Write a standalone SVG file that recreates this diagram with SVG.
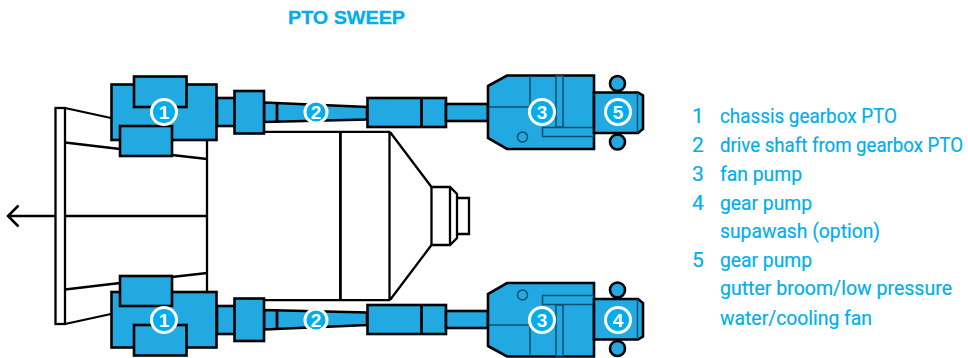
<svg xmlns="http://www.w3.org/2000/svg" width="968" height="358" viewBox="0 0 968 358">
<style>
.s{fill:none;stroke:#000;stroke-width:2.300}
.w{fill:#fff;stroke:#000;stroke-width:2.300}
.b{fill:#23a9e1;stroke:#000;stroke-width:2.600}
.t{fill:none;stroke:#0b4f6e;stroke-width:1.500}
.d{fill:#23a9e1;stroke:#0b4f6e;stroke-width:1.500}
.c{fill:#00aeef;stroke:#fff;stroke-width:3}
.n{fill:#fff;font:bold 19px "Liberation Sans",Arial,sans-serif;text-anchor:middle}
.l{fill:#00aeef;font:21px Roboto,"Liberation Sans",sans-serif;stroke:#00aeef;stroke-width:.2}
</style>
<defs>
<g id="gearboxShape">
<rect class="b" x="111.500" y="84.500" width="105" height="55.500"/>
<rect class="b" x="134" y="76.500" width="52.500" height="30.500"/>
<rect class="b" x="120" y="126" width="52" height="30"/>
</g>
<g id="shaftShape">
<rect class="b" x="217" y="98" width="18" height="28"/>
<polygon class="b" points="264,102.500 367,107 367,119.500 264,122"/>
<rect class="b" x="234.500" y="91" width="29.500" height="42.500"/>
<line x1="277" y1="102" x2="277" y2="122.500" stroke="#000" stroke-width="2.800"/>
<rect class="b" x="367.500" y="98" width="78.500" height="29"/>
<line x1="421.500" y1="98" x2="421.500" y2="127" stroke="#000" stroke-width="2.800"/>
<rect class="b" x="446" y="104" width="42" height="17"/>
</g>
<g id="pumpShape">
<polygon class="b" points="488,86 507,75.500 594,75.500 594,149 507,149 488,138"/>
<path class="t" d="M489,107H530M530,76V107"/>
<rect class="d" x="556" y="76" width="7" height="51"/>
<rect class="d" x="542.500" y="127.500" width="51" height="9"/>
<circle class="t" cx="522.500" cy="137" r="5"/>
<circle class="b" cx="617.500" cy="83.500" r="7.500"/>
<circle class="b" cx="617.500" cy="142" r="7.500"/>
<path class="b" d="M594,92.500H638L643,95.500V129L638,133H594Z"/>
<line x1="637.500" y1="93" x2="637.500" y2="133" stroke="#0b4f6e" stroke-width="1.500"/>
</g>
</defs>

<text id="title" x="288" y="24" fill="#00aeef" font-family="Liberation Sans, sans-serif" font-weight="700" font-size="19" textLength="117" lengthAdjust="spacingAndGlyphs" stroke="#00aeef" stroke-width=".3">PTO SWEEP</text>

<g id="chassis">
<rect class="w" x="55.500" y="108" width="9.500" height="216"/>
<path class="s" d="M65,108L111,118M65,142.500L120,149M172,155L207,159M207,140V292M65,216H207M65,324L111,314M65,289.500L120,283M172,277L207,273"/>
</g>
<g id="body">
<path class="s" d="M264,131.800H390M264,300.200H390"/>
<rect x="339" y="132" width="2.800" height="168" fill="#000"/>
<path class="s" d="M389.500,132V300M390,132L431.500,187H450L457,194V238L450,245H431.500L390,300"/>
<path class="s" d="M431.500,187V245M450,187V245M457,198H469V234H457"/>
</g>

<g id="connectors">
<path fill="none" stroke="#000" stroke-width="2.500" d="M55,216H8M18.500,205.500L8,216L18.500,226.500"/>
</g>

<g id="gearbox-top"><use href="#gearboxShape"/><circle class="c" cx="164" cy="112" r="12.500"/><text class="n" x="164" y="118.500">1</text></g>
<g id="gearbox-bottom"><use href="#gearboxShape" transform="matrix(1 0 0 -1 0 432)"/><circle class="c" cx="164" cy="320" r="12.500"/><text class="n" x="164" y="326.500">1</text></g>
<g id="shaft-top"><use href="#shaftShape"/><circle class="c" cx="316" cy="112" r="11"/><text class="n" x="316" y="118.500">2</text></g>
<g id="shaft-bottom"><use href="#shaftShape" transform="matrix(1 0 0 -1 0 432)"/><circle class="c" cx="316" cy="320" r="11"/><text class="n" x="316" y="326.500">2</text></g>
<g id="pump-top"><use href="#pumpShape"/><circle class="c" cx="542" cy="112" r="12.500"/><text class="n" x="542" y="118.500">3</text><circle class="c" cx="618" cy="112" r="12.500"/><text class="n" x="618" y="118.500">5</text></g>
<g id="pump-bottom"><use href="#pumpShape" transform="matrix(1 0 0 -1 0 432)"/><circle class="c" cx="542" cy="320" r="12.500"/><text class="n" x="542" y="326.500">3</text><circle class="c" cx="618" cy="320" r="12.500"/><text class="n" x="618" y="326.500">4</text></g>

<g id="legend">
<text class="l" x="692" y="122.500">1</text><text class="l" x="720" y="122.500" textLength="177" lengthAdjust="spacingAndGlyphs">chassis gearbox PTO</text>
<text class="l" x="692" y="151.500">2</text><text class="l" x="720" y="151.500" font-size="20" style="font-size:19.500px" textLength="243" lengthAdjust="spacingAndGlyphs">drive shaft from gearbox PTO</text>
<text class="l" x="692" y="180.500">3</text><text class="l" x="720" y="180.500" textLength="82" lengthAdjust="spacingAndGlyphs">fan pump</text>
<text class="l" x="692" y="209.500">4</text><text class="l" x="720" y="209.500" textLength="92" lengthAdjust="spacingAndGlyphs">gear pump</text>
<text class="l" x="720" y="238" textLength="160" lengthAdjust="spacingAndGlyphs">supawash (option)</text>
<text class="l" x="692" y="266.500">5</text><text class="l" x="720" y="266.500" textLength="92" lengthAdjust="spacingAndGlyphs">gear pump</text>
<text class="l" x="720" y="295" textLength="232" lengthAdjust="spacingAndGlyphs">gutter broom/low pressure</text>
<text class="l" x="720" y="324.500" textLength="152" lengthAdjust="spacingAndGlyphs">water/cooling fan</text>
</g>
</svg>
